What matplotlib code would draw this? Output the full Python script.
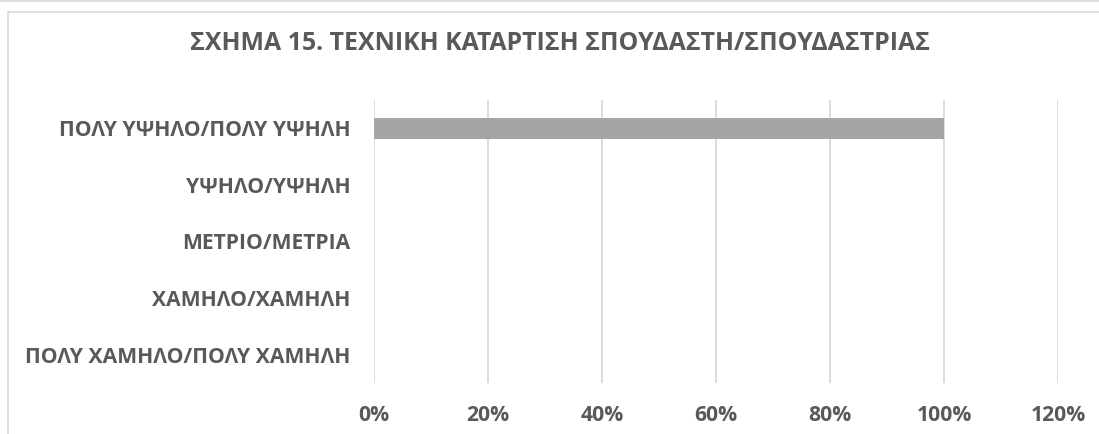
import matplotlib
matplotlib.use("Agg")
import matplotlib.pyplot as plt
from matplotlib.lines import Line2D
from matplotlib.ticker import FuncFormatter, MultipleLocator

categories = ["ΠΟΛΥ ΥΨΗΛΟ/ΠΟΛΥ ΥΨΗΛΗ", "ΥΨΗΛΟ/ΥΨΗΛΗ", "ΜΕΤΡΙΟ/ΜΕΤΡΙΑ",
              "ΧΑΜΗΛΟ/ΧΑΜΗΛΗ", "ΠΟΛΥ ΧΑΜΗΛΟ/ΠΟΛΥ ΧΑΜΗΛΗ"]
values = [1.00, 0.0, 0.0, 0.0, 0.0]
title = "ΣΧΗΜΑ 15. ΤΕΧΝΙΚΗ ΚΑΤΑΡΤΙΣΗ ΣΠΟΥΔΑΣΤΗ/ΣΠΟΥΔΑΣΤΡΙΑΣ"

W, H = 1099, 434
TXT = "#595959"
plt.rcParams['font.family'] = ['Open Sans', 'DejaVu Sans']

fig = plt.figure(figsize=(W / 100, H / 100), dpi=100)
ax = fig.add_axes([374 / W, (H - 383) / H, (1058 - 374) / W, (383 - 100) / H])

y = list(range(len(categories)))
ax.barh(y, values, height=0.37, color="#A5A5A5", zorder=3)
ax.set_yticks(y)
ax.set_yticklabels(categories)
ax.set_ylim(len(categories) - 0.5, -0.5)
ax.set_xlim(0, 1.2)
ax.xaxis.set_major_locator(MultipleLocator(0.2))
ax.xaxis.set_major_formatter(FuncFormatter(lambda v, p: f"{round(v * 100)}%"))
ax.grid(axis="x", color="#D9D9D9", linewidth=1.3, zorder=0)
for s in ax.spines.values():
    s.set_visible(False)
ax.tick_params(axis="both", length=0, colors=TXT, labelsize=15.2)
ax.tick_params(axis="y", pad=17)
ax.tick_params(axis="x", pad=16)
for lab in ax.get_yticklabels() + ax.get_xticklabels():
    lab.set_fontweight("bold")
    lab.set_color(TXT)

fig.text(560 / W, 1 - 43 / H, title, ha="center", va="center",
         fontsize=17.9, fontweight="bold", color=TXT)

frame = "#D9D9D9"
fig.add_artist(Line2D([0, 1], [1 - 0.8 / H] * 2, color=frame, lw=1.2, transform=fig.transFigure))
fig.add_artist(Line2D([7.5 / W, 1], [1 - 11.5 / H] * 2, color=frame, lw=1.2, transform=fig.transFigure))
fig.add_artist(Line2D([7.5 / W] * 2, [1 - 11.5 / H, 0], color=frame, lw=1.2, transform=fig.transFigure))

fig.savefig("out.png", dpi=100)
